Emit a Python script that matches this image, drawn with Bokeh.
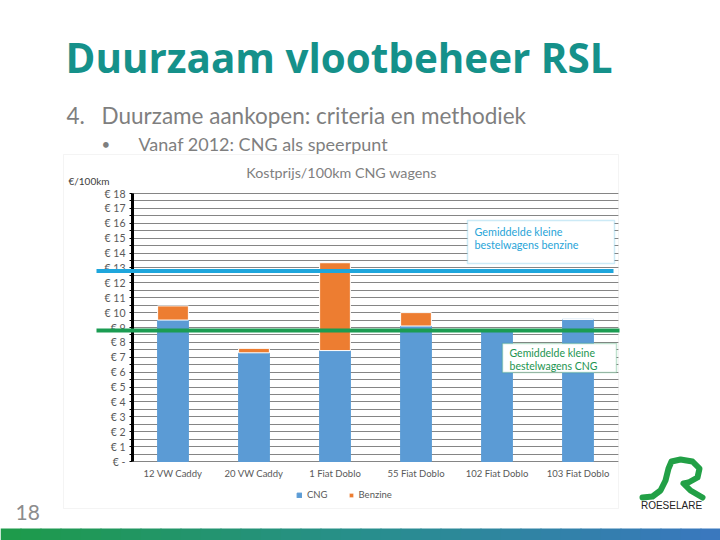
from bokeh.plotting import figure
from bokeh.models import (Range1d, FixedTicker, Label, BoxAnnotation,
                          PolyAnnotation, Legend, LegendItem, ColumnDataSource)
from bokeh.embed import file_html
from bokeh.resources import INLINE

# ---------------- data ----------------
categories = ["12 VW Caddy", "20 VW Caddy", "1 Fiat Doblo", "55 Fiat Doblo",
              "102 Fiat Doblo", "103 Fiat Doblo"]
cng = [9.5, 7.3, 7.45, 9.1, 8.75, 9.55]
benzine = [0.95, 0.3, 5.9, 0.9, 0.0, 0.0]
avg_benzine = 12.8
avg_cng = 8.8
y_ticks = list(range(0, 19))
y_tick_labels = ["€ -"] + ["€ %d" % i for i in range(1, 19)]

# ---------------- layout (page pixels) ----------------
W, H = 720, 540
FL, FR, FT, FB = 132, 618, 193, 461        # chart plot area on the page
PXU = (FR - FL) / len(categories)          # pixels per category
PYU = (FB - FT) / 18.0                     # pixels per euro


def sx(X):
    return X


def sy(Y):
    return H - Y


p = figure(width=W, height=H,
           x_range=Range1d(-FL / PXU, (W - FL) / PXU),
           y_range=Range1d(-(H - FB) / PYU, FB / PYU),
           output_backend="svg", toolbar_location=None,
           min_border=0, min_border_left=0, min_border_right=0,
           min_border_top=0, min_border_bottom=0)
p.outline_line_color = None
p.background_fill_color = "white"
p.border_fill_color = "white"

xpos = [i + 0.5 for i in range(len(categories))]
source = ColumnDataSource(dict(x=xpos, CNG=cng, Benzine=benzine))
rs = p.vbar_stack(["CNG", "Benzine"], x="x", width=0.38, source=source,
                  fill_color=["#5b9bd5", "#ed7d31"], line_color=["#5b9bd5", "white"],
                  line_width=1)

# axes (kept in their side panels, drawn at the chart origin)
p.yaxis.fixed_location = 0
p.yaxis.bounds = (0, 18)
p.yaxis.ticker = FixedTicker(ticks=y_ticks, minor_ticks=[t + 0.5 for t in range(18)])
p.yaxis.major_label_overrides = {t: l for t, l in zip(y_ticks, y_tick_labels)}
p.yaxis.axis_line_color = "black"
p.yaxis.axis_line_width = 3
p.yaxis.major_tick_line_color = "black"
p.yaxis.minor_tick_line_color = "black"
p.yaxis.major_tick_in = 0
p.yaxis.major_tick_out = 3
p.yaxis.minor_tick_in = 0
p.yaxis.minor_tick_out = 3
p.yaxis.major_label_standoff = 4
p.yaxis.major_label_text_font = "Lato"
p.yaxis.major_label_text_font_size = "10.5px"
p.yaxis.major_label_text_color = "#595959"

p.xaxis.fixed_location = 0
p.xaxis.bounds = (0, len(categories))
p.xaxis.ticker = FixedTicker(ticks=xpos, minor_ticks=[])
p.xaxis.major_label_overrides = {x: c for x, c in zip(xpos, categories)}
p.xaxis.axis_line_color = None
p.xaxis.major_tick_line_color = None
p.xaxis.minor_tick_line_color = None
p.xaxis.major_label_standoff = 0
p.xaxis.major_label_text_font = "Lato"
p.xaxis.major_label_text_font_size = "9.5px"
p.xaxis.major_label_text_color = "#595959"

p.xgrid.grid_line_color = None
p.ygrid.grid_line_color = "#858585"
p.ygrid.minor_grid_line_color = "#858585"
p.ygrid.bounds = (0, 18)
p.ygrid.cross_bounds = (0, len(categories))

# legend
legend = Legend(items=[LegendItem(label="CNG", renderers=[rs[0]]),
                       LegendItem(label="Benzine", renderers=[rs[1]])],
                location=(sx(296), sy(500)), orientation="horizontal",
                glyph_width=6, glyph_height=6, label_standoff=5, spacing=20,
                padding=0, margin=0, border_line_color=None, background_fill_alpha=0,
                label_text_font="Lato", label_text_font_size="9.5px",
                label_text_color="#595959")
p.add_layout(legend)


def box(l, t, r, b, **kw):
    p.add_layout(BoxAnnotation(left=sx(l), right=sx(r), top=sy(t), bottom=sy(b),
                               left_units="screen", right_units="screen",
                               top_units="screen", bottom_units="screen", **kw))


# chart border
box(63, 154, 618, 508, fill_alpha=0, line_color="#d9d9d9", line_width=1)

# average lines
p.add_layout(PolyAnnotation(xs=[sx(96), sx(613)], ys=[avg_benzine, avg_benzine],
                            xs_units="screen", ys_units="data", fill_alpha=0,
                            line_color="#1ea6dc", line_alpha=1, line_width=4))
p.add_layout(PolyAnnotation(xs=[sx(96), sx(619)], ys=[avg_cng, avg_cng],
                            xs_units="screen", ys_units="data", fill_alpha=0,
                            line_color="#1b9c52", line_alpha=1, line_width=4))

# annotation boxes
box(467, 220, 614, 263, fill_color="white", fill_alpha=1, line_color="#55b8e0",
    line_width=1.5)
box(502, 343, 616, 372, fill_color="white", fill_alpha=1, line_color="#2f9f5f",
    line_width=1.5)


def lab(text, X, Y, size, color, font="Lato", style="normal", align="left",
        baseline="middle"):
    p.add_layout(Label(x=sx(X), y=sy(Y), x_units="screen", y_units="screen", text=text,
                       text_font=font, text_font_size=size, text_color=color,
                       text_font_style=style, text_align=align, text_baseline=baseline))


lab("Gemiddelde kleine", 474, 231, "10.8px", "#27a4d8")
lab("bestelwagens benzine", 474, 244, "10.8px", "#27a4d8")
lab("Gemiddelde kleine", 509, 352, "10.5px", "#1c9450")
lab("bestelwagens CNG", 509, 365, "10.5px", "#1c9450")

# chart texts
lab("Kostprijs/100km CNG wagens", 341, 172, "14.3px", "#7f7f7f", align="center")
lab("€/100km", 68, 180, "10px", "#404040")

# slide texts
lab("Duurzaam vlootbeheer RSL", 65, 57, "40.4px", "#15918a", font="Open Sans",
    style="bold")
lab("4.", 66, 115, "22.5px", "#7f7f7f")
lab("Duurzame aankopen: criteria en methodiek", 101, 115, "22.5px", "#7f7f7f")
lab("•", 101, 143, "15px", "#7f7f7f")
lab("Vanaf 2012: CNG als speerpunt", 138, 143, "18px", "#7f7f7f")
lab("18", 15, 512, "21px", "#8c8c8c")
lab("ROESELARE", 671, 505, "10px", "#222222", font="Liberation Sans", align="center")

# logo stroke
logo_path = [(642, 497), (652, 496), (660, 490), (665, 480), (668, 468), (671, 461),
             (680, 459), (692, 461), (699, 468), (697, 477), (688, 482), (683, 483),
             (690, 490), (702, 497)]
path = logo_path + logo_path[::-1]
p.add_layout(PolyAnnotation(xs=[sx(a) for a, b in path], ys=[sy(b) for a, b in path],
                            xs_units="screen", ys_units="screen", fill_alpha=0,
                            line_color="#22a046", line_alpha=1, line_width=6,
                            line_join="round"))

# bottom band gradient
c0, c1, c2 = (30, 155, 75), (40, 143, 140), (58, 120, 190)
n = 36
for i in range(n):
    t = i / (n - 1)
    if t < 0.5:
        a, b, u = c0, c1, t / 0.5
    else:
        a, b, u = c1, c2, (t - 0.5) / 0.5
    col = "#%02x%02x%02x" % tuple(int(a[k] + (b[k] - a[k]) * u) for k in range(3))
    box(i * W / n, 528, (i + 1) * W / n + 1, H + 6, fill_color=col, fill_alpha=1,
        line_color=None)

open("out.html", "w").write(file_html(p, INLINE))
